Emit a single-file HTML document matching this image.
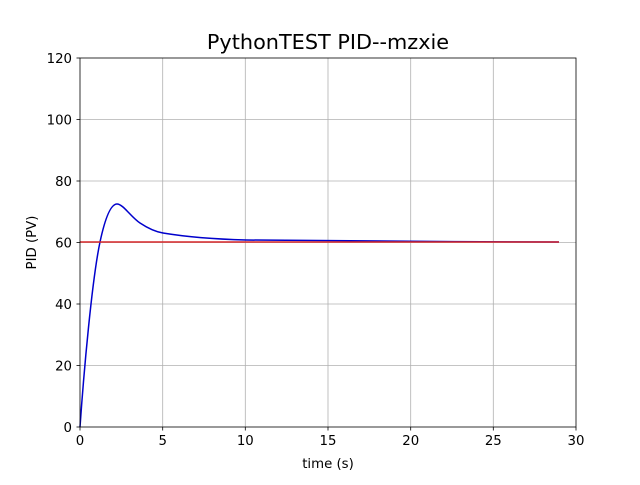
<!DOCTYPE html>
<html><head><style>body{margin:0;background:#fff}</style></head><body>
<svg width="640" height="480" xmlns="http://www.w3.org/2000/svg" font-family="DejaVu Sans, Liberation Sans, sans-serif">
<rect width="640" height="480" fill="#fff"/>
<g stroke="#b0b0b0" stroke-width="0.8">
<line x1="162.7" y1="58" x2="162.7" y2="427"/><line x1="245.3" y1="58" x2="245.3" y2="427"/>
<line x1="328" y1="58" x2="328" y2="427"/><line x1="410.7" y1="58" x2="410.7" y2="427"/>
<line x1="493.3" y1="58" x2="493.3" y2="427"/>
<line x1="80" y1="365.5" x2="576" y2="365.5"/><line x1="80" y1="304" x2="576" y2="304"/>
<line x1="80" y1="242.5" x2="576" y2="242.5"/><line x1="80" y1="181" x2="576" y2="181"/>
<line x1="80" y1="119.5" x2="576" y2="119.5"/>
</g>
<path fill="none" stroke="#0000cc" stroke-width="1.5" d="M80,427 C84,370 92,280 100,242 C103,228 109,204 117,204 C123,204 131,217 140,223 C146,227 154,231.5 163,233 C190,237.5 220,239.3 246,240 C300,240.7 450,241.8 559,242"/>
<polyline fill="none" stroke="#d62728" stroke-width="1.5" points="80,242 559,242"/>
<rect x="80" y="58" width="496" height="369" fill="none" stroke="#000" stroke-width="0.8"/>
<g stroke="#000" stroke-width="0.8">
<line x1="80" y1="427" x2="80" y2="430.5"/><line x1="162.7" y1="427" x2="162.7" y2="430.5"/><line x1="245.3" y1="427" x2="245.3" y2="430.5"/><line x1="328" y1="427" x2="328" y2="430.5"/><line x1="410.7" y1="427" x2="410.7" y2="430.5"/><line x1="493.3" y1="427" x2="493.3" y2="430.5"/><line x1="576" y1="427" x2="576" y2="430.5"/>
<line x1="76.5" y1="427" x2="80" y2="427"/><line x1="76.5" y1="365.5" x2="80" y2="365.5"/><line x1="76.5" y1="304" x2="80" y2="304"/><line x1="76.5" y1="242.5" x2="80" y2="242.5"/><line x1="76.5" y1="181" x2="80" y2="181"/><line x1="76.5" y1="119.5" x2="80" y2="119.5"/><line x1="76.5" y1="58" x2="80" y2="58"/>
</g>
<g font-size="13.3" text-anchor="middle" fill="#000">
<text x="80" y="445">0</text><text x="162.7" y="445">5</text><text x="245.3" y="445">10</text><text x="328" y="445">15</text><text x="410.7" y="445">20</text><text x="493.3" y="445">25</text><text x="576" y="445">30</text>
</g>
<g font-size="13.3" text-anchor="end" fill="#000">
<text x="72" y="432">0</text><text x="72" y="370.5">20</text><text x="72" y="309">40</text><text x="72" y="247.5">60</text><text x="72" y="186">80</text><text x="72" y="124.5">100</text><text x="72" y="63">120</text>
</g>
<text x="328" y="468" font-size="13.3" text-anchor="middle">time (s)</text>
<text transform="translate(36,242.5) rotate(-90)" font-size="13.3" text-anchor="middle">PID (PV)</text>
<text x="328" y="49" font-size="20.8" text-anchor="middle">PythonTEST PID--mzxie</text>
</svg>
</body></html>
